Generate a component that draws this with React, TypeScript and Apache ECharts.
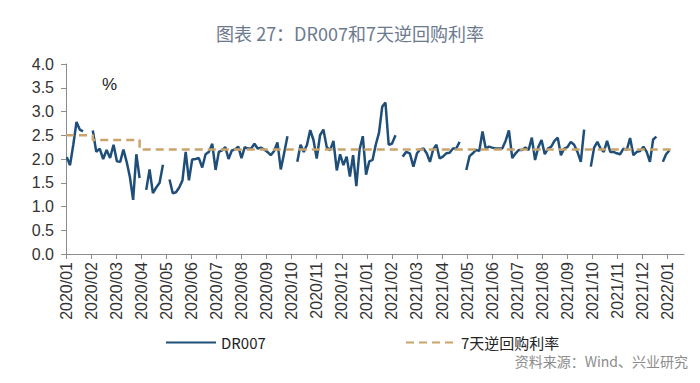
import React, { useEffect, useRef } from "react";
import * as echarts from "echarts";

const MONTH_LABELS = [
  "2020/01", "2020/02", "2020/03", "2020/04", "2020/05", "2020/06", "2020/07",
  "2020/08", "2020/09", "2020/10", "2020/11", "2020/12", "2021/01", "2021/02",
  "2021/03", "2021/04", "2021/05", "2021/06", "2021/07", "2021/08", "2021/09",
  "2021/10", "2021/11", "2021/12", "2022/01",
];

// DR007 sampled every 4 calendar days from 2020-01-02 (null = holiday gap)
const SAMPLE_START = "2020-01-02";
const SAMPLE_STEP_DAYS = 4;
const DR007: (number | null)[] = [
  2.04, 1.87, 2.30, 2.78, 2.62, 2.58, null, null, 2.60, 2.15,
  2.22, 2.00, 2.19, 2.02, 2.30, 1.95, 1.94, 2.20, 1.94, 1.62,
  1.14, 2.10, 1.60, null, 1.35, 1.78, 1.28, 1.40, 1.50, 1.88,
  null, 1.57, 1.28, 1.30, 1.40, 1.55, 2.15, 1.55, 1.99, 2.00,
  2.02, 1.82, 2.10, 2.15, 2.32, 1.77, 2.15, 2.18, 2.25, 2.00,
  2.18, 2.20, 2.26, 2.02, 2.25, 2.22, 2.22, 2.32, 2.22, 2.24,
  2.20, 2.15, 2.08, 2.17, 2.35, 1.78, 2.12, 2.48, null, null,
  1.94, 2.30, 2.15, 2.30, 2.61, 2.40, 2.01, 2.50, 2.62, 2.25,
  2.18, 2.38, 1.76, 2.10, 1.87, 2.05, 1.63, 2.08, 1.43, 2.20,
  2.48, 1.67, 1.95, 1.98, 2.30, 2.55, 3.10, 3.19, 2.30, 2.32,
  2.50, null, 2.05, 2.15, 2.12, 1.84, 2.12, 2.20, 2.22, 2.12,
  1.94, 2.20, 2.30, 2.01, 2.05, 2.12, 2.13, 2.22, 2.22, 2.36,
  null, 1.77, 2.06, 2.12, 2.19, 2.17, 2.58, 2.22, 2.26, 2.24,
  2.22, 2.22, 2.22, 2.38, 2.60, 2.02, 2.12, 2.19, 2.19, 2.24,
  2.19, 2.45, 1.98, 2.25, 2.40, 2.10, 2.22, 2.26, 2.38, 2.45,
  2.08, 2.22, 2.25, 2.36, 2.30, 2.15, 1.94, 2.62, null, 1.84,
  2.24, 2.36, 2.22, 2.15, 2.38, 2.15, 2.15, 2.12, 2.10, 2.22,
  2.19, 2.44, 2.08, 2.15, 2.17, 2.26, 2.15, 1.94, 2.41, 2.47,
  null, 1.94, 2.10, 2.18,
];

// 7-day reverse repo rate change dates and levels
const REPO_DATES = ["2020-01-01", "2020-02-03", "2020-03-30", "2022-01-05"];
const REPO_RATE = [2.5, 2.4, 2.2, 2.2];

const Y_MIN = 0;
const Y_MAX = 4;
const Y_INTERVAL = 0.5;

function parseUTC(s: string): Date {
  return new Date(s + "T00:00:00Z");
}

function monthIndex(d: Date): number {
  const y = d.getUTCFullYear();
  const m = d.getUTCMonth();
  const day = d.getUTCDate();
  const dim = new Date(Date.UTC(y, m + 1, 0)).getUTCDate();
  return (y - 2020) * 12 + m + (day - 1) / dim;
}

export default function App() {
  const ref = useRef<HTMLDivElement>(null);

  useEffect(() => {
    if (!ref.current) return;
    const chart = echarts.init(ref.current, null, { renderer: "svg" });

    const start = parseUTC(SAMPLE_START);
    const drData = DR007.map((v, i) => {
      const d = new Date(start.getTime() + i * SAMPLE_STEP_DAYS * 86400000);
      return [monthIndex(d), v == null ? "-" : v];
    });
    const repoData = REPO_DATES.map((s, i) => [monthIndex(parseUTC(s)), REPO_RATE[i]]);
    const tickValues = MONTH_LABELS.map((_, i) => i);

    const axisFont = "'Liberation Sans', Arial, sans-serif";
    const cjkFont = "'Noto Sans CJK SC', sans-serif";

    const legendBase = {
      top: 330,
      itemWidth: 50,
      itemHeight: 14,
      itemGap: 6,
      itemStyle: { opacity: 0 },
      textStyle: { fontFamily: cjkFont, fontSize: 15, color: "#222" },
    };

    chart.setOption({
      animation: false,
      backgroundColor: "#ffffff",
      title: {
        text: "图表 27：DR007和7天逆回购利率",
        left: "center",
        top: 19,
        textStyle: {
          fontFamily: cjkFont,
          fontSize: 18,
          fontWeight: "normal",
          color: "#6c7a8e",
        },
      },
      grid: { left: 66, right: 16, top: 64, bottom: 129 },
      legend: [
        { ...legendBase, data: ["DR007"], left: 160 },
        { ...legendBase, data: ["7天逆回购利率"], left: 400 },
      ],
      xAxis: {
        type: "value",
        min: 0,
        max: 24.65,
        interval: 1,
        splitLine: { show: false },
        axisLine: { show: true, lineStyle: { color: "#8c8c8c", width: 1 } },
        axisTick: {
          show: true,
          length: 5,
          customValues: tickValues,
          lineStyle: { color: "#8c8c8c" },
        },
        axisLabel: {
          customValues: tickValues,
          rotate: 90,
          margin: 8,
          fontSize: 16,
          fontFamily: axisFont,
          color: "#333",
          formatter: (v: number) => MONTH_LABELS[Math.round(v)] ?? "",
        },
      },
      yAxis: {
        type: "value",
        min: Y_MIN,
        max: Y_MAX,
        interval: Y_INTERVAL,
        splitLine: { show: false },
        axisLine: { show: true, lineStyle: { color: "#8c8c8c", width: 1 } },
        axisTick: { show: true, length: 5, lineStyle: { color: "#8c8c8c" } },
        axisLabel: {
          margin: 12,
          fontSize: 16,
          fontFamily: axisFont,
          color: "#333",
          formatter: (v: number) => v.toFixed(1),
        },
      },
      graphic: [
        {
          type: "text",
          left: 102,
          top: 76,
          style: {
            text: "%",
            fontSize: 17,
            fontFamily: axisFont,
            fill: "#222",
          },
        },
        {
          type: "text",
          right: 12,
          top: 354,
          style: {
            text: "资料来源：Wind、兴业研究",
            fontSize: 14,
            fontFamily: cjkFont,
            fill: "#8c8c8c",
          },
        },
      ],
      series: [
        {
          name: "DR007",
          type: "line",
          data: drData,
          symbol: "none",
          connectNulls: false,
          lineStyle: { color: "#1f4e79", width: 2.5 },
          itemStyle: { color: "#1f4e79" },
          z: 3,
        },
        {
          name: "7天逆回购利率",
          type: "line",
          data: repoData,
          step: "end",
          symbol: "none",
          lineStyle: { color: "#c9a46c", width: 2.5, type: [8, 5] },
          itemStyle: { color: "#c9a46c" },
          z: 4,
        },
      ],
    });

    return () => chart.dispose();
  }, []);

  return (
    <div
      ref={ref}
      style={{ position: "fixed", left: 0, top: 0, width: 700, height: 383, background: "#fff" }}
    />
  );
}
